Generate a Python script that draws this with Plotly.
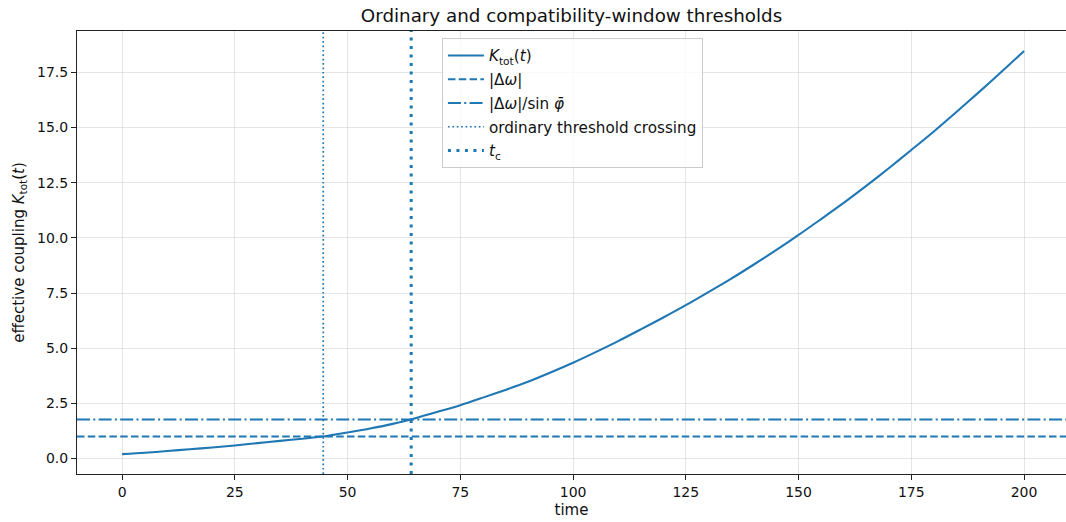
import plotly.graph_objects as go

# ---- data ----
t_vals = [0, 5, 10, 15, 20, 25, 30, 35, 40, 45, 50, 55, 60, 65, 70, 75, 80, 85, 90, 95,
          100, 105, 110, 115, 120, 125, 130, 135, 140, 145, 150, 155, 160, 165, 170, 175,
          180, 185, 190, 195, 200]
k_tot = [0.20, 0.26, 0.34, 0.42, 0.50, 0.59, 0.70, 0.80, 0.90, 1.01, 1.18, 1.36, 1.57,
         1.83, 2.12, 2.42, 2.76, 3.11, 3.48, 3.90, 4.34, 4.82, 5.32, 5.85, 6.39, 6.95,
         7.54, 8.14, 8.78, 9.44, 10.13, 10.85, 11.58, 12.35, 13.15, 13.98, 14.82, 15.70,
         16.60, 17.52, 18.46]
delta_omega = 1.0            # |Δω|
window_threshold = 1.77      # |Δω|/sin φ̄
t_ordinary = 44.6            # ordinary threshold crossing
t_c = 64.1                   # compatibility-window crossing

x_ticks = [0, 25, 50, 75, 100, 125, 150, 175, 200]
y_ticks = [0.0, 2.5, 5.0, 7.5, 10.0, 12.5, 15.0, 17.5]
y_tick_text = ["0.0", "2.5", "5.0", "7.5", "10.0", "12.5", "15.0", "17.5"]

x_range = [-10, 209.3]
y_range = [-0.70, 19.37]

color = "#1f77b4"
font = "DejaVu Sans"

fig = go.Figure()
fig.add_trace(go.Scatter(x=t_vals, y=k_tot, mode="lines",
                         line=dict(color=color, width=2.1, shape="spline", smoothing=0.8),
                         name="<i>K</i><sub>tot</sub>(<i>t</i>)", legendgroup="a"))
fig.add_trace(go.Scatter(x=x_range, y=[delta_omega, delta_omega], mode="lines",
                         line=dict(color=color, width=2.0, dash="7.5px,3.3px"),
                         name="|Δ<i>ω</i>|", legendgroup="b"))
fig.add_trace(go.Scatter(x=x_range, y=[window_threshold, window_threshold], mode="lines",
                         line=dict(color=color, width=2.0, dash="13px,3.3px,2px,3.3px"),
                         name="|Δ<i>ω</i>|/sin <i>φ̄</i>", legendgroup="c"))
fig.add_trace(go.Scatter(x=[t_ordinary, t_ordinary], y=y_range, mode="lines",
                         line=dict(color=color, width=1.7, dash="1.7px,2.7px"),
                         name="ordinary threshold crossing", legendgroup="d"))
fig.add_trace(go.Scatter(x=[t_c, t_c], y=y_range, mode="lines",
                         line=dict(color=color, width=3.0, dash="3px,5.5px"),
                         name="<i>t</i><sub>c</sub>", legendgroup="e"))

axis_common = dict(
    showline=True, linecolor="#222222", linewidth=1.1,
    ticks="outside", ticklen=5, tickwidth=1.1, tickcolor="#222222",
    showgrid=True, gridcolor="rgba(180,180,180,0.35)", gridwidth=1,
    zeroline=False,
    tickfont=dict(family=font, size=14, color="#111111"),
)

fig.update_layout(
    width=1066, height=522,
    margin=dict(l=77, r=0, t=31, b=48),
    paper_bgcolor="white", plot_bgcolor="white",
    font=dict(family=font, size=14, color="#111111"),
    title=dict(text="Ordinary and compatibility-window thresholds",
               x=0.5, xref="paper", xanchor="center",
               y=1 - 16 / 522, yref="container", yanchor="middle",
               font=dict(family=font, size=18.3, color="#111111")),
    xaxis=dict(range=x_range, tickvals=x_ticks, mirror=True,
               title=dict(text="time", standoff=5, font=dict(family=font, size=15)),
               **axis_common),
    yaxis=dict(range=y_range, tickvals=y_ticks, ticktext=y_tick_text,
               title=dict(text="effective coupling <i>K</i><sub>tot</sub>(<i>t</i>)",
                          standoff=8, font=dict(family=font, size=15)),
               **axis_common),
    legend=dict(x=0.369, y=0.984, xanchor="left", yanchor="top",
                bgcolor="rgba(255,255,255,0.8)", bordercolor="#cccccc", borderwidth=1,
                font=dict(family=font, size=15.2, color="#111111"),
                itemwidth=36, tracegroupgap=1),
    showlegend=True,
)

fig.write_html("out.html")
